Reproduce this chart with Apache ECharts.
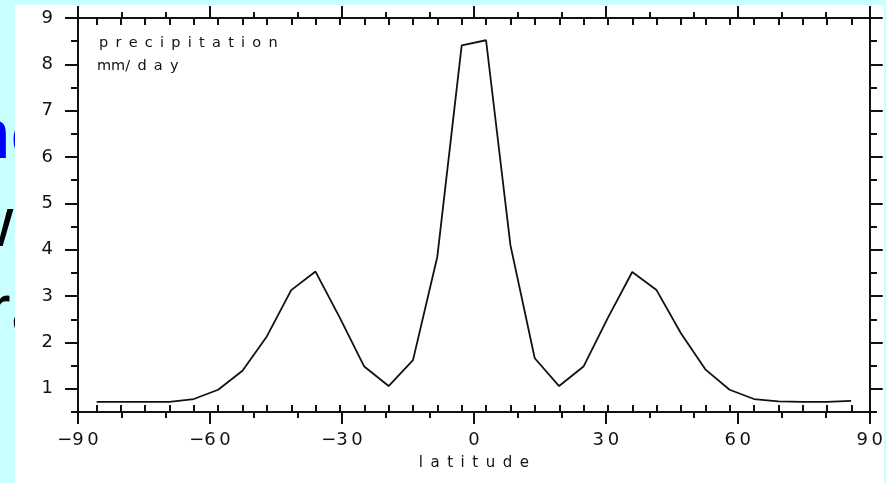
<!DOCTYPE html>
<html>
<head>
<meta charset="UTF-8">
<title>precipitation</title>
<script src="https://cdn.jsdelivr.net/npm/echarts@6/dist/echarts.min.js"></script>
<style>
html,body{margin:0;padding:0;background:#c8ffff;}
#chart{width:886px;height:483px;}
</style>
</head>
<body>
<div id="chart"></div>
<script>
// gaussian grid latitudes (T21) and zonal mean precipitation, mm/day
var latitudes = [-85.76, -80.27, -74.74, -69.21, -63.68, -58.14, -52.61, -47.07, -41.53, -36.00, -30.46, -24.92, -19.38, -13.84, -8.31, -2.77,
                 2.77, 8.31, 13.84, 19.38, 24.92, 30.46, 36.00, 41.53, 47.07, 52.61, 58.14, 63.68, 69.21, 74.74, 80.27, 85.76];
var precip = [0.72, 0.72, 0.72, 0.72, 0.78, 0.98, 1.39, 2.13, 3.13, 3.53, 2.53, 1.48, 1.06, 1.62, 3.85, 8.41,
              8.52, 4.10, 1.66, 1.06, 1.48, 2.53, 3.52, 3.13, 2.20, 1.42, 0.98, 0.78, 0.73, 0.72, 0.72, 0.74];
var yMajorTicks = [1, 2, 3, 4, 5, 6, 7, 8, 9];
var yMinorTicks = [0.5, 1.5, 2.5, 3.5, 4.5, 5.5, 6.5, 7.5, 8.5];

var sp = '\u2002';
var ink = '#111';

function xLabel(v){
    var s = String(Math.abs(v)).split('').join('\u2009');
    return v < 0 ? '\u2212' + s : s;
}

window.onload = function(){
    var myChart = echarts.init(document.getElementById('chart'));
    var pts = [];
    for (var i = 0; i < latitudes.length; i++) pts.push([latitudes[i], precip[i]]);

    var gridBox = {left: 78, right: 16, top: 18, bottom: 71};
    var line = {show: true, onZero: false, lineStyle: {color: ink, width: 2}};
    var font = {fontFamily: 'DejaVu Sans', fontSize: 18, color: ink};

    function xMain(pos, labels){
        return {
            type: 'value', gridIndex: 0, position: pos, min: -90, max: 90, interval: 30,
            axisLine: line,
            axisTick: {show: true, length: 12, lineStyle: {color: ink, width: 2}},
            minorTick: {show: true, splitNumber: 3, length: 6, lineStyle: {color: ink, width: 2}},
            splitLine: {show: false},
            axisLabel: Object.assign({show: labels, margin: 19, formatter: xLabel}, font),
            name: labels ? 'latitude'.split('').join(sp) : '',
            nameLocation: 'middle', nameGap: 44,
            nameTextStyle: {fontFamily: 'DejaVu Sans', fontSize: 15, color: ink}
        };
    }
    function xGauss(pos){
        return {
            type: 'value', gridIndex: 1, position: pos, min: -90, max: 90,
            axisLine: {show: false, onZero: false},
            axisTick: {show: true, inside: true, length: 7, customValues: latitudes, lineStyle: {color: ink, width: 2}},
            axisLabel: {show: false}, splitLine: {show: false}
        };
    }
    function yMain(pos, labels){
        return {
            type: 'value', gridIndex: 0, position: pos, min: 0.5, max: 9,
            axisLine: line,
            axisTick: {show: true, length: 13, customValues: yMajorTicks, lineStyle: {color: ink, width: 2}},
            axisLabel: Object.assign({show: labels, margin: 25, customValues: yMajorTicks}, font),
            splitLine: {show: false}
        };
    }
    function yMinor(pos){
        return {
            type: 'value', gridIndex: 1, position: pos, min: 0.5, max: 9,
            axisLine: {show: false, onZero: false},
            axisTick: {show: true, length: 7, customValues: yMinorTicks, lineStyle: {color: ink, width: 2}},
            axisLabel: {show: false}, splitLine: {show: false}
        };
    }

    var option = {
        backgroundColor: '#c8ffff',
        animation: false,
        grid: [Object.assign({}, gridBox), Object.assign({}, gridBox)],
        xAxis: [xMain('bottom', true), xMain('top', false), xGauss('bottom'), xGauss('top')],
        yAxis: [yMain('left', true), yMain('right', false), yMinor('left'), yMinor('right')],
        graphic: [
            // slide text peeking out on the left
            {type: 'text', z: -20, x: -29, y: 138, style: {text: 'ne', font: '71px "Liberation Sans"', fill: '#0000ff', verticalAlign: 'middle'}},
            {type: 'text', z: -20, x: -38, y: 226, style: {text: 'wa', font: '71px "Liberation Sans"', fill: '#000', verticalAlign: 'middle'}},
            {type: 'text', z: -20, x: -13, y: 313, style: {text: 'ra', font: '71px "Liberation Sans"', fill: '#000', verticalAlign: 'middle'}},
            {type: 'rect', z: -10, shape: {x: 15, y: 5, width: 869, height: 478}, style: {fill: '#fff'}},
            {type: 'text', z: 5, x: 99, y: 36, style: {text: 'precipitation'.split('').join(sp), font: '14.5px "DejaVu Sans"', fill: ink}},
            {type: 'text', z: 5, x: 97, y: 59, style: {text: 'mm/' + sp + 'd' + sp + 'a' + sp + 'y', font: '14.5px "DejaVu Sans"', fill: ink}}
        ],
        series: [{
            type: 'line', xAxisIndex: 0, yAxisIndex: 0,
            data: pts, symbol: 'none',
            lineStyle: {color: ink, width: 1.8}
        }]
    };
    myChart.setOption(option);
};
</script>
</body>
</html>
